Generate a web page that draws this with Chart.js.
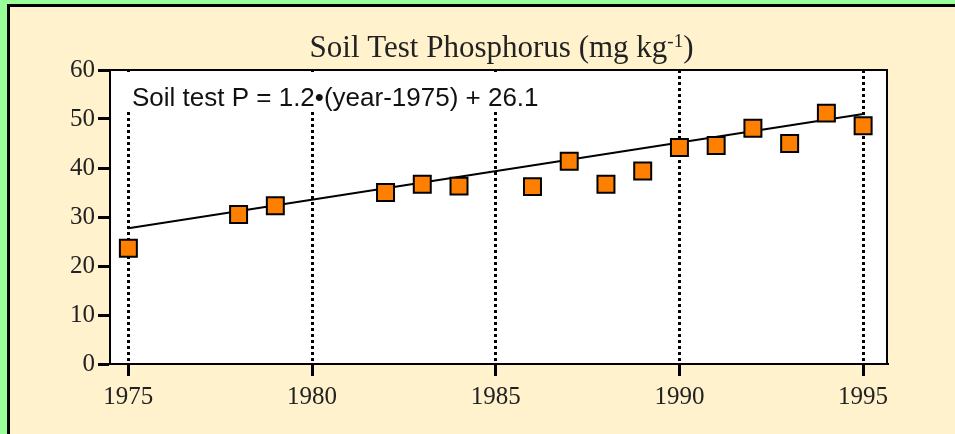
<!DOCTYPE html>
<html lang="en">
  <head>
    <meta charset="UTF-8" />
    <title>Soil Test Phosphorus</title>
    <script src="https://cdn.jsdelivr.net/npm/chart.js"></script>
    <style>
      html, body { margin: 0; overflow: hidden; background: #fff2cc; }
      #myChart { display: block; }
    </style>
  </head>
  <body>
    <canvas id="myChart" width="955" height="434"></canvas>

    <script>
      // measured points
      const years = [1975, 1978, 1979, 1982, 1983, 1984, 1986, 1987, 1988, 1989, 1990, 1991, 1992, 1993, 1994, 1995];
      const soilP = [23.6, 30.5, 32.3, 35.0, 36.7, 36.3, 36.2, 41.4, 36.7, 39.4, 44.2, 44.6, 48.1, 45.0, 51.2, 48.6];

      // regression line ends
      const fitYears = [1975, 1995];
      const fitP = [27.7, 51.0];

      // axis ticks
      const xTicks = [1975, 1980, 1985, 1990, 1995];
      const yTicks = [0, 10, 20, 30, 40, 50, 60];

      // title is drawn in pieces so the -1 can be raised
      const titleMain = "Soil Test Phosphorus (mg kg";
      const titleSup = "-1";
      const titleEnd = ")";
      const eqText = "Soil test P = 1.2\u2022(year-1975) + 26.1";

      const serif = "'Liberation Serif', 'Times New Roman', serif";

      // slide frame, white plot area, title
      const plotDeco = {
        id: "plotDeco",
        beforeDraw(chart) {
          const { ctx, chartArea: a, width, height } = chart;
          ctx.save();
          // green + black edge on the left and top
          ctx.fillStyle = "#99ff99";
          ctx.fillRect(0, 0, 7, height);
          ctx.fillRect(0, 0, width, 4);
          ctx.fillStyle = "#000";
          ctx.fillRect(7, 4, 3, height - 4);
          ctx.fillRect(7, 4, width - 7, 3);

          ctx.fillStyle = "#fff";
          ctx.fillRect(a.left, a.top, a.right - a.left, a.bottom - a.top);

          // title
          ctx.fillStyle = "#222";
          ctx.textBaseline = "alphabetic";
          ctx.font = "31px " + serif;
          const w1 = ctx.measureText(titleMain).width;
          const w3 = ctx.measureText(titleEnd).width;
          ctx.font = "19px " + serif;
          const w2 = ctx.measureText(titleSup).width;
          let x = (a.left + a.right) / 2 + 3 - (w1 + w2 + w3) / 2;
          ctx.font = "31px " + serif;
          ctx.fillText(titleMain, x, 57);
          x += w1;
          ctx.font = "19px " + serif;
          ctx.fillText(titleSup, x, 47);
          x += w2;
          ctx.font = "31px " + serif;
          ctx.fillText(titleEnd, x, 57);
          ctx.restore();
        },
        // equation box over the grid lines, and the top/right plot edge
        beforeDatasetsDraw(chart) {
          const { ctx, chartArea: a } = chart;
          ctx.save();
          ctx.fillStyle = "#fff";
          ctx.fillRect(a.left + 4, a.top + 2, 440, 40);
          ctx.fillStyle = "#111";
          ctx.font = "26px 'Liberation Sans', Arial, sans-serif";
          ctx.textBaseline = "alphabetic";
          ctx.fillText(eqText, a.left + 22, a.top + 36);
          ctx.strokeStyle = "#000";
          ctx.lineWidth = 2;
          ctx.beginPath();
          ctx.moveTo(a.left, a.top);
          ctx.lineTo(a.right, a.top);
          ctx.lineTo(a.right, a.bottom);
          ctx.stroke();
          ctx.restore();
        },
      };

      const ctx = document.querySelector("#myChart").getContext("2d");

      const myChart = new Chart(ctx, {
        type: "scatter",
        data: {
          datasets: [
            {
              label: "Soil test P",
              data: years.map((x, i) => ({ x: x, y: soilP[i] })),
              pointStyle: "rect",
              pointRadius: 12,
              pointHoverRadius: 12,
              backgroundColor: "#ff8000",
              borderColor: "#000",
              borderWidth: 2,
            },
            {
              label: "fit",
              type: "line",
              data: fitYears.map((x, i) => ({ x: x, y: fitP[i] })),
              borderColor: "#000",
              borderWidth: 2,
              pointRadius: 0,
              fill: false,
            },
          ],
        },
        options: {
          responsive: false,
          animation: false,
          layout: { padding: { left: 0, right: 68, top: 70, bottom: 0 } },
          plugins: {
            legend: { display: false },
            tooltip: { enabled: false },
            title: { display: false },
          },
          scales: {
            x: {
              type: "linear",
              min: 1974.5,
              max: 1995.65,
              afterBuildTicks: (s) => { s.ticks = xTicks.map((v) => ({ value: v })); },
              afterFit: (s) => { s.height = 70; },
              ticks: {
                color: "#222",
                padding: 6,
                font: { family: serif, size: 25 },
                callback: (v) => String(v),
              },
              grid: {
                color: "#000",
                lineWidth: 3,
                drawTicks: true,
                tickLength: 12,
                tickWidth: 3,
                tickColor: "#000",
              },
              border: { display: true, color: "#000", width: 2, dash: [3, 3] },
            },
            y: {
              min: 0,
              max: 60,
              afterBuildTicks: (s) => { s.ticks = yTicks.map((v) => ({ value: v })); },
              afterFit: (s) => { s.width = 110; },
              ticks: {
                color: "#222",
                padding: 3,
                font: { family: serif, size: 25 },
              },
              grid: {
                drawOnChartArea: false,
                drawTicks: true,
                tickLength: 12,
                tickWidth: 3,
                tickColor: "#000",
              },
              border: { display: true, color: "#000", width: 2 },
            },
          },
        },
        plugins: [plotDeco],
      });
    </script>
  </body>
</html>
